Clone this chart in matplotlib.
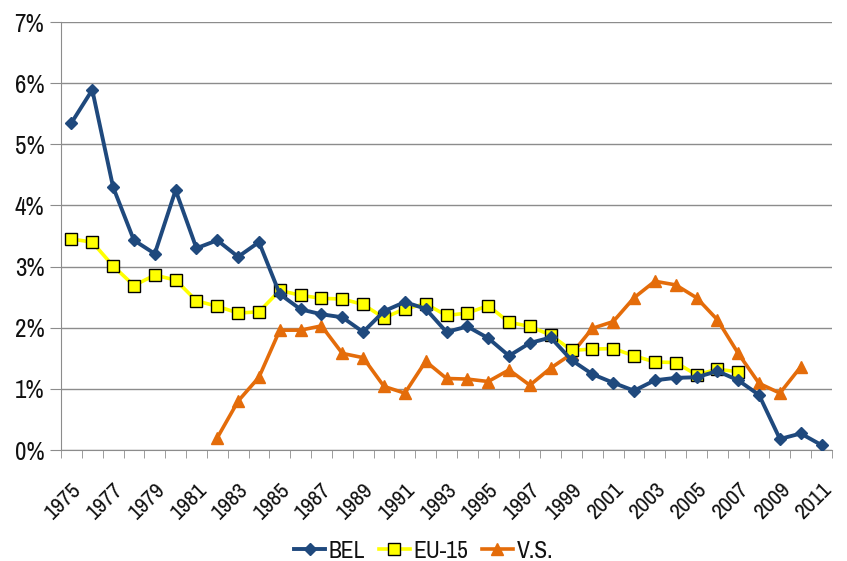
import matplotlib
matplotlib.use("Agg")
import matplotlib.pyplot as plt
from matplotlib.ticker import FixedLocator, FuncFormatter
from matplotlib import font_manager
import matplotlib.transforms as mtrans

years = list(range(1975, 2012))

bel = [5.35, 5.89, 4.30, 3.43, 3.21, 4.25, 3.30, 3.43, 3.16, 3.40,
       2.55, 2.30, 2.22, 2.17, 1.93, 2.27, 2.42, 2.31, 1.93, 2.02,
       1.83, 1.54, 1.75, 1.84, 1.47, 1.24, 1.10, 0.97, 1.14, 1.18,
       1.19, 1.29, 1.14, 0.90, 0.18, 0.27, 0.08]

eu15_years = list(range(1975, 2008))
eu15 = [3.45, 3.40, 3.01, 2.69, 2.86, 2.78, 2.44, 2.35, 2.24, 2.26,
        2.61, 2.53, 2.48, 2.47, 2.38, 2.16, 2.31, 2.39, 2.20, 2.24,
        2.36, 2.09, 2.02, 1.88, 1.63, 1.65, 1.66, 1.54, 1.44, 1.43,
        1.23, 1.32, 1.28]

vs_years = list(range(1982, 2011))
vs = [0.20, 0.80, 1.19, 1.96, 1.96, 2.03, 1.58, 1.51, 1.04, 0.93,
      1.45, 1.17, 1.16, 1.12, 1.31, 1.06, 1.34, 1.57, 1.99, 2.10,
      2.49, 2.76, 2.70, 2.49, 2.13, 1.58, 1.09, 0.93, 1.36]

yticks = [0, 1, 2, 3, 4, 5, 6, 7]
xlabels_years = list(range(1975, 2012, 2))

names = sorted({f.name for f in font_manager.fontManager.ttflist})
narrow = [n for n in names if 'Narrow' in n or 'Condensed' in n]
if narrow:
    plt.rcParams['font.family'] = [narrow[0], 'DejaVu Sans']
else:
    plt.rcParams['font.family'] = ['DejaVu Sans']
    plt.rcParams['font.stretch'] = 'condensed'

fig = plt.figure(figsize=(8.47, 5.61), dpi=100)
ax = fig.add_axes([61/847, 1 - 450/561, (832-61)/847, (450-22)/561])

ax.plot(vs_years, vs, color='#E46C0A', lw=2.6, marker='^', markersize=9,
        markerfacecolor='#E46C0A', markeredgecolor='#E46C0A', label='V.S.', zorder=3)
ax.plot(eu15_years, eu15, color='#FFFF00', lw=2.6, marker='s', markersize=9,
        markerfacecolor='#FFFF00', markeredgecolor='#000000', markeredgewidth=1.0,
        label='EU-15', zorder=4)
ax.plot(years, bel, color='#1F497D', lw=2.8, marker='D', markersize=6.5,
        markerfacecolor='#1F497D', markeredgecolor='#1F497D', label='BEL', zorder=5)

ax.set_xlim(1974.5, 2011.5)
ax.set_ylim(0, 7)
ax.set_yticks(yticks)
ax.yaxis.set_major_formatter(FuncFormatter(lambda v, p: f"{int(round(v))}%"))
ax.grid(axis='y', color='#8C8C8C', lw=1.0)
ax.set_axisbelow(True)

ax.xaxis.set_major_locator(FixedLocator(xlabels_years))
ax.set_xticklabels([str(y) for y in xlabels_years], rotation=45, ha='right',
                   va='top', rotation_mode='anchor', fontsize=16.5, color='#111111')
ax.xaxis.set_minor_locator(FixedLocator([y - 0.5 for y in years] + [2011.5]))
ax.tick_params(axis='x', which='major', length=0, pad=21)
ax.tick_params(axis='x', which='minor', length=6, color='#8C8C8C', direction='out')
ax.tick_params(axis='y', length=8, color='#8C8C8C', labelsize=18, pad=4, labelcolor='#111111')
offset = mtrans.ScaledTranslation(0, 0, fig.dpi_scale_trans)
for lab in ax.get_xticklabels():
    lab.set_transform(lab.get_transform() + offset)

for s in ['top', 'right']:
    ax.spines[s].set_visible(False)
ax.spines['left'].set_color('#8C8C8C')
ax.spines['bottom'].set_color('#8C8C8C')

handles, labels = ax.get_legend_handles_labels()
order = [2, 1, 0]
leg = fig.legend([handles[i] for i in order], [labels[i] for i in order],
                 loc='center', bbox_to_anchor=(0.5, 1 - 551/561), ncol=3,
                 frameon=False, fontsize=17, handlelength=1.3, handletextpad=0.15,
                 columnspacing=0.6)
for t in leg.get_texts():
    t.set_color('#111111')

fig.savefig("out.png", dpi=100)
